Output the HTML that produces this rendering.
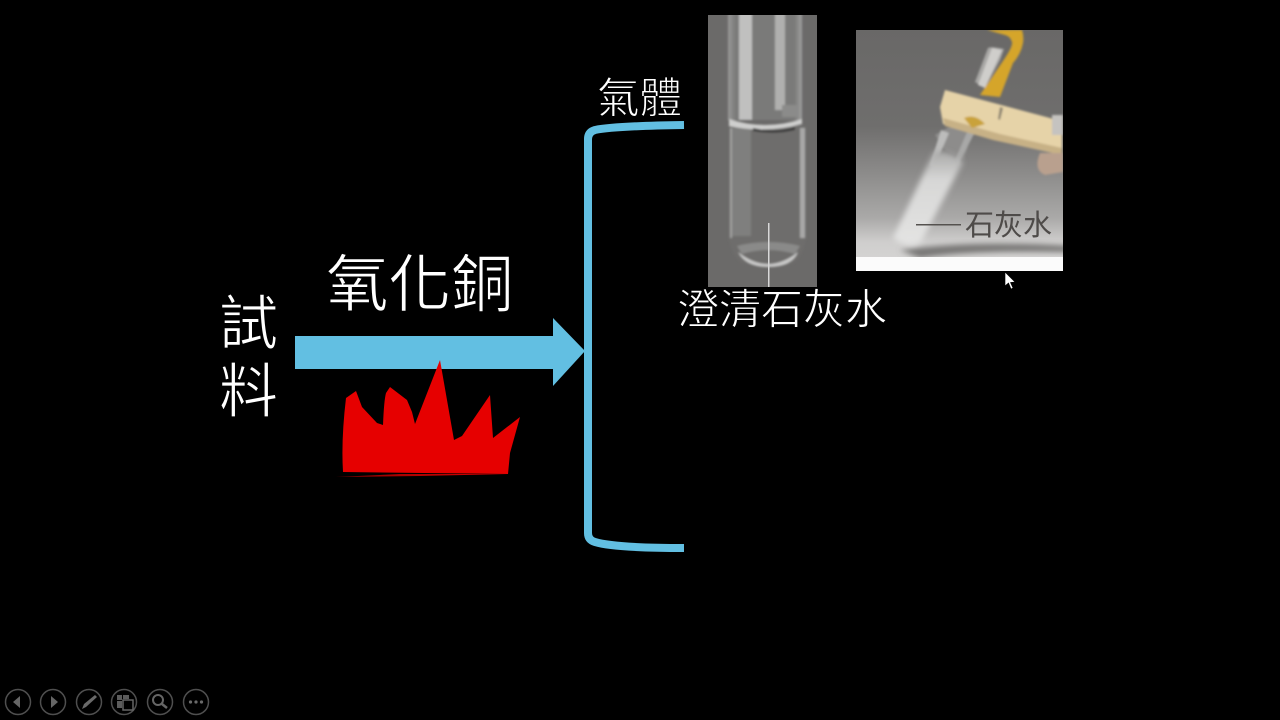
<!DOCTYPE html>
<html lang="zh-Hant">
<head>
<meta charset="utf-8">
<style>
html,body{margin:0;padding:0;background:#000;width:1280px;height:720px;overflow:hidden}
svg{display:block}
text{font-family:"Liberation Sans","Noto Sans CJK TC",sans-serif;fill:#fff;font-weight:400}
.thin{stroke:#000;stroke-width:.9px}
</style>
</head>
<body>
<svg xmlns="http://www.w3.org/2000/svg" width="1280" height="720" viewBox="0 0 1280 720">
<defs>
<linearGradient id="bg2" x1="0" y1="0" x2="0" y2="1">
<stop offset="0" stop-color="#696867"/><stop offset=".4" stop-color="#6f6e6d"/><stop offset=".6" stop-color="#8d8c8b"/><stop offset=".78" stop-color="#aaa9a8"/><stop offset=".88" stop-color="#cfcecd"/><stop offset="1" stop-color="#d8d7d6"/>
</linearGradient>
<linearGradient id="tubeTop" x1="0" y1="0" x2="1" y2="0">
<stop offset="0" stop-color="#9a9a99"/><stop offset=".1" stop-color="#7a7a79"/><stop offset=".9" stop-color="#7a7a79"/><stop offset="1" stop-color="#a0a09f"/>
</linearGradient>
<linearGradient id="milk" x1="0" y1="0" x2="0" y2="1">
<stop offset="0" stop-color="#a9a9a8"/><stop offset=".3" stop-color="#d7d7d6"/><stop offset="1" stop-color="#e4e4e3"/>
</linearGradient>
<linearGradient id="base" x1="0" y1="0" x2="1" y2="0">
<stop offset="0" stop-color="#8a0000"/><stop offset=".6" stop-color="#c00000"/><stop offset="1" stop-color="#e00000"/>
</linearGradient>
<filter id="b1" x="-20%" y="-20%" width="140%" height="140%"><feGaussianBlur stdDeviation="1.100"/></filter>
<filter id="b3" x="-30%" y="-30%" width="160%" height="160%"><feGaussianBlur stdDeviation="2.800"/></filter>
<clipPath id="c1"><rect x="708" y="15" width="109" height="272"/></clipPath>
<clipPath id="c2"><rect x="856" y="30" width="207" height="227"/></clipPath>
</defs>
<rect width="1280" height="720" fill="#000"/>

<!-- Left test tube photo -->
<rect x="708" y="15" width="109" height="272" fill="#6b6a69"/>
<g clip-path="url(#c1)">
<g filter="url(#b1)">
<path d="M728 5V120H802V5Z" fill="url(#tubeTop)"/>
<rect x="739" y="5" width="13" height="115" fill="#c0c0bf"/>
<rect x="775" y="5" width="10" height="105" fill="#b0b0af"/>
<rect x="782" y="105" width="16" height="12" fill="#8b8b8a"/>
<path d="M729 126V240Q732 256 742 263Q768 272 794 263Q804 254 806 238V126Z" fill="#6e6d6c"/>
<rect x="732" y="128" width="19" height="108" fill="#7f7f7e"/>
<rect x="730" y="128" width="2" height="110" fill="#a2a2a1"/>
<rect x="800" y="128" width="5" height="110" fill="#a8a8a7"/>
<path d="M729 119Q765 131 802 119V124Q765 134 729 126Z" fill="#cfcfce"/>
<path d="M753 128Q775 133 795 127V130Q775 135 753 131Z" fill="#3a3a3a"/>
<path d="M738 252Q768 276 798 252Q792 267 768 267Q746 267 738 252Z" fill="#c8c8c7"/>
<path d="M737 246Q768 238 800 246L795 254Q768 246 742 254Z" fill="#8a8a89"/>
</g>
</g>
<rect x="768" y="223" width="1.500" height="64" fill="#d8d8d8"/>

<!-- Right test tube photo -->
<rect x="856" y="30" width="207" height="241" fill="url(#bg2)"/>
<g clip-path="url(#c2)">
<g filter="url(#b3)">
<path d="M900 250Q970 240 1070 246V252Q970 250 920 258Z" fill="#777675"/>
</g>
<g filter="url(#b1)">
<path d="M975 82L988 48Q990 46 1004 49L1000 60L985 88Z" fill="#a9a8a6"/>
<path d="M992 48L1002 50L985 88L978 85Z" fill="#cfcecb"/>
<path d="M987 30H1022Q1024 36 1023 43Q1021 54 1013 63L1000 97L980 95L1005 58Q1013 46 1012 42Q1010 36 1005 35Z" fill="#d5a52c"/>
<path d="M935 135L978 110L964 160L945 150Z" fill="#8d8c8b"/>
<path d="M941 130L949 133L934 168L930 165Z" fill="#bcbcbb"/>
<path d="M968 130L975 132L958 165L955 160Z" fill="#a8a8a7"/>
</g>
<g filter="url(#b3)">
<path d="M934 152Q950 150 963 162L921 242Q908 250 893 238Z" fill="url(#milk)"/>
</g>
<g filter="url(#b1)">
<path d="M945 90L1050 118L1062 122V155L993 139L943 124L940 107Z" fill="#e6d3a8"/>
<path d="M943 118L1000 134L1062 148V155L993 140L945 126Z" fill="#c7b186"/>
<path d="M964 118Q975 113 985 124L972 128Z" fill="#c9a23a"/>
<path d="M1000 107L1003 108L1000 120L998 119Z" fill="#8a8270"/>
<path d="M1040 153H1063V172L1045 175Q1033 170 1040 153Z" fill="#b9a08e"/>
<rect x="1052" y="115" width="11" height="20" fill="#c5c3c0"/>
</g>
</g>
<rect x="856" y="257" width="207" height="14" fill="#fbfbfb"/>
<rect x="916" y="224" width="45" height="1.500" fill="#55524f"/>
<text x="965" y="235" font-size="29" style="fill:#4e4b49">石灰水</text>
<path d="M1005 272L1005 286L1008.500 283L1011 289L1013 288L1010.500 282.500L1015 282Z" fill="#fff" stroke="#000" stroke-width=".6"/>

<!-- Labels -->
<text class="thin" x="597" y="113" font-size="42.500">氣體</text>
<text class="thin" x="326" y="306" font-size="62.500">氧化銅</text>
<text class="thin" x="219" y="344" font-size="59">試</text>
<text class="thin" x="219" y="412" font-size="59">料</text>
<text class="thin" x="677" y="324" font-size="42">澄清石灰水</text>

<!-- Arrow -->
<path d="M295 336H553V318L585 351L553 386V369H295Z" fill="#62bfe2"/>

<!-- Bracket -->
<path d="M684 125Q615 126 595 130Q588 132 588 139V533Q588 540 595 542Q615 548 684 548" fill="none" stroke="#62bfe2" stroke-width="8"/>

<!-- Flame -->
<path d="M343 472Q341 440 346 398L356 391L362 407L377 423L383 425Q384 400 386 393L390 387L407 400L412 412L415 424L440 360L454 440L462 436L490 395L493 438L520 417L510 453L508 474Z" fill="#e60000"/>
<path d="M336 477L400 474L508 474L420 476Z" fill="url(#base)"/>

<!-- Slide controls -->
<g fill="none" stroke="#4f4f4f" stroke-width="1.500">
<circle cx="18" cy="702" r="12.500"/><circle cx="53" cy="702" r="12.500"/><circle cx="89" cy="702" r="12.500"/><circle cx="124" cy="702" r="12.500"/><circle cx="160" cy="702" r="12.500"/><circle cx="196" cy="702" r="12.500"/>
</g>
<path d="M13 702L20 696V708Z" fill="#666"/>
<path d="M58 702L51 696V708Z" fill="#666"/>
<path d="M82 709L84 704L95 695L97 697L86 707Z" fill="#6a6a6a"/>
<g fill="#5c5c5c"><rect x="117" y="695" width="5" height="5"/><rect x="117" y="701" width="5" height="7"/><rect x="123" y="695" width="6" height="4"/></g>
<rect x="123" y="700" width="10" height="10" fill="#000" stroke="#666" stroke-width="1.500"/>
<circle cx="158" cy="700" r="5" fill="none" stroke="#666" stroke-width="2"/>
<path d="M162 704L167 708" stroke="#666" stroke-width="2.500"/>
<g fill="#6a6a6a"><circle cx="190.500" cy="702" r="1.600"/><circle cx="196" cy="702" r="1.600"/><circle cx="201.500" cy="702" r="1.600"/></g>
</svg>
</body>
</html>
